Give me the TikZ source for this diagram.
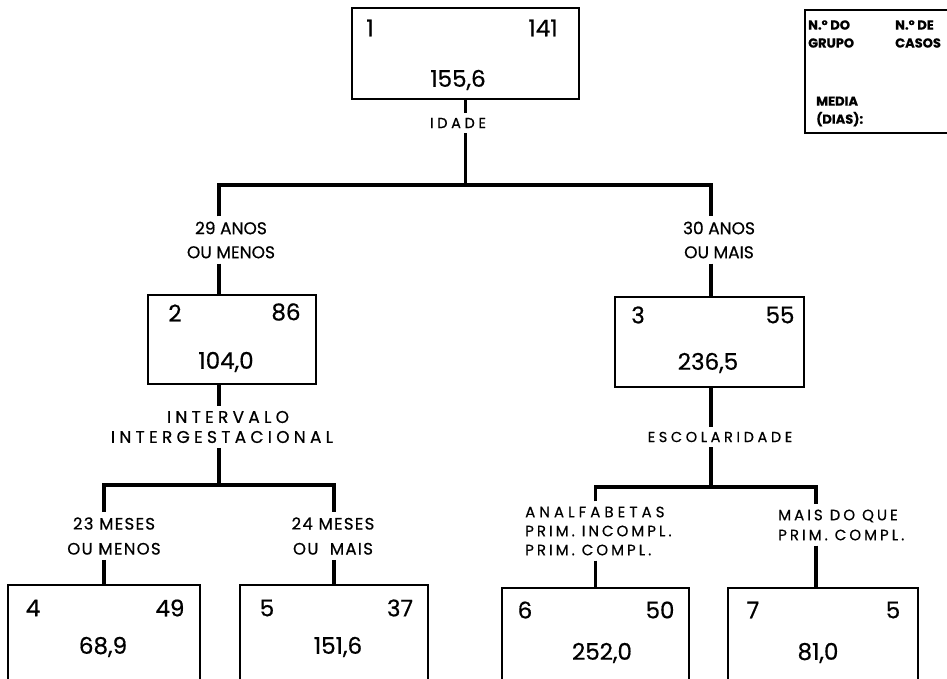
\documentclass[tikz,border=0pt]{standalone}
\usepackage{fontspec}
\setmainfont{Poppins}[FakeBold=0.6]
\newfontfamily\largo{Poppins}[LetterSpace=25,FakeBold=0.6]
\newfontfamily\medio{Poppins}[LetterSpace=8,FakeBold=0.6]
\newfontfamily\esco{Poppins}[LetterSpace=20,FakeBold=0.6]
\tikzset{
  caixa/.style={draw,line width=1.8pt,inner sep=0pt},
  lig/.style={line width=3.2pt},
  num/.style={inner sep=0pt,font=\fontsize{23}{26}\selectfont},
  rot/.style={inner sep=5pt,align=center,font=\fontsize{17}{24}\selectfont},
  var/.style={inner sep=5pt,align=center,font=\largo\fontsize{14.5}{22}\selectfont},
  ramo/.style={inner sep=5pt,align=center,font=\medio\fontsize{16.5}{25}\selectfont},
  esc/.style={inner sep=5pt,align=left,anchor=west,font=\esco\fontsize{15}{19}\selectfont},
  leg/.style={inner sep=0pt,align=left,anchor=west,font=\bfseries\fontsize{13}{18}\selectfont}
}
\begin{document}
\begin{tikzpicture}[x=1pt,y=-1pt]
\clip (0,0) rectangle (947,679);
% caixas dos grupos
\node[caixa,minimum width=227pt,minimum height=91pt] (b1) at (465.5,53.5) {};
\node[caixa,minimum width=168pt,minimum height=89pt] (b2) at (232,339.5) {};
\node[caixa,minimum width=189pt,minimum height=90pt] (b3) at (709.5,342) {};
\node[caixa,minimum width=192pt,minimum height=115pt] (b4) at (104,642.5) {};
\node[caixa,minimum width=188pt,minimum height=115pt] (b5) at (334,642.5) {};
\node[caixa,minimum width=187pt,minimum height=112pt] (b6) at (595.5,644) {};
\node[caixa,minimum width=190pt,minimum height=112pt] (b7) at (823,644) {};
\node[caixa,minimum width=150pt,minimum height=123pt] (leg) at (880,71.5) {};
% numeros
\node[num] (n1) at (370,28) {1};
\node[num] (c1) at (543,28) {141};
\node[num] (m1) at (458,80) {155,6};
\node[num] (n2) at (175,313) {2};
\node[num] (c2) at (286,312) {86};
\node[num] (m2) at (226,362) {104,0};
\node[num] (n3) at (638,315) {3};
\node[num] (c3) at (780,315) {55};
\node[num] (m3) at (708,363) {236,5};
\node[num] (n4) at (33,608) {4};
\node[num] (c4) at (170,608) {49};
\node[num] (m4) at (103,647) {68,9};
\node[num] (n5) at (267,608) {5};
\node[num] (c5) at (400,608) {37};
\node[num] (m5) at (338,647) {151,6};
\node[num] (n6) at (525,610) {6};
\node[num] (c6) at (660,610) {50};
\node[num] (m6) at (602,653) {252,0};
\node[num] (n7) at (753,610) {7};
\node[num] (c7) at (893,610) {5};
\node[num] (m7) at (818,653) {81,0};
% legenda
\node[leg] (lg1) at (808,34) {N.º DO\\GRUPO};
\node[leg] (lg2) at (895,34) {N.º DE\\CASOS};
\node[leg] (lg3) at (816,111.5) {MEDIA\\(DIAS):};
% variaveis e ramos
\node[var] (idade) at (458,123) {IDADE};
\node[rot] (g2) at (231,240) {29 ANOS\\OU MENOS};
\node[rot] (g3) at (719,240) {30 ANOS\\OU MAIS};
\node[var,font=\largo\fontsize{17}{20}\selectfont] (interv) at (222,427) {\hspace*{12pt}INTERVALO\\INTERGESTACIONAL};
\node[ramo] (g4) at (114,536) {23 MESES\\OU MENOS};
\node[ramo] (g5) at (333,536) {24 MESES\\OU \ MAIS};
\node[var] (escol) at (720,437) {ESCOLARIDADE};
\node[esc] (g6) at (520,531) {{\addfontfeature{LetterSpace=27}ANALFABETAS}\\PRIM. INCOMPL.\\PRIM. COMPL.};
\node[esc,font=\esco\fontsize{15}{20}\selectfont] (g7) at (773,525) {MAIS DO QUE\\PRIM. COMPL.};
\coordinate (t2) at (219,295);
\coordinate (t3) at (711,297);
\coordinate (t7) at (816,588);
\coordinate (j1) at (464,185);
\coordinate (j2) at (219,485);
\coordinate (j3) at (711,487);
% ligacoes
\draw[lig] (b1.south) -- (b1.south |- idade.north);
\draw[lig] (b1.south |- idade.south) -- (b1.south |- j1);
\draw[lig] (t2 |- g2.north) -- (t2 |- j1) -- (t3 |- j1) -- (t3 |- g3.north);
\draw[lig] (t2 |- g2.south) -- (t2);
\draw[lig] (t3 |- g3.south) -- (t3);
\draw[lig] (t2 |- b2.south) -- (t2 |- interv.north);
\draw[lig] (t2 |- interv.south) -- (j2);
\draw[lig] (b4.north |- g4.north) -- (b4.north |- j2) -- (b5.north |- j2) -- (b5.north |- g5.north);
\draw[lig] (b4.north |- g4.south) -- (b4.north);
\draw[lig] (b5.north |- g5.south) -- (b5.north);
\draw[lig] (t3 |- b3.south) -- (t3 |- escol.north);
\draw[lig] (t3 |- escol.south) -- (j3);
\draw[lig] (b6.north |- g6.north) -- (b6.north |- j3) -- (t7 |- j3) -- (t7 |- g7.north);
\draw[lig] (b6.north |- g6.south) -- (b6.north);
\draw[lig] (t7 |- g7.south) -- (t7);
\end{tikzpicture}
\end{document}
